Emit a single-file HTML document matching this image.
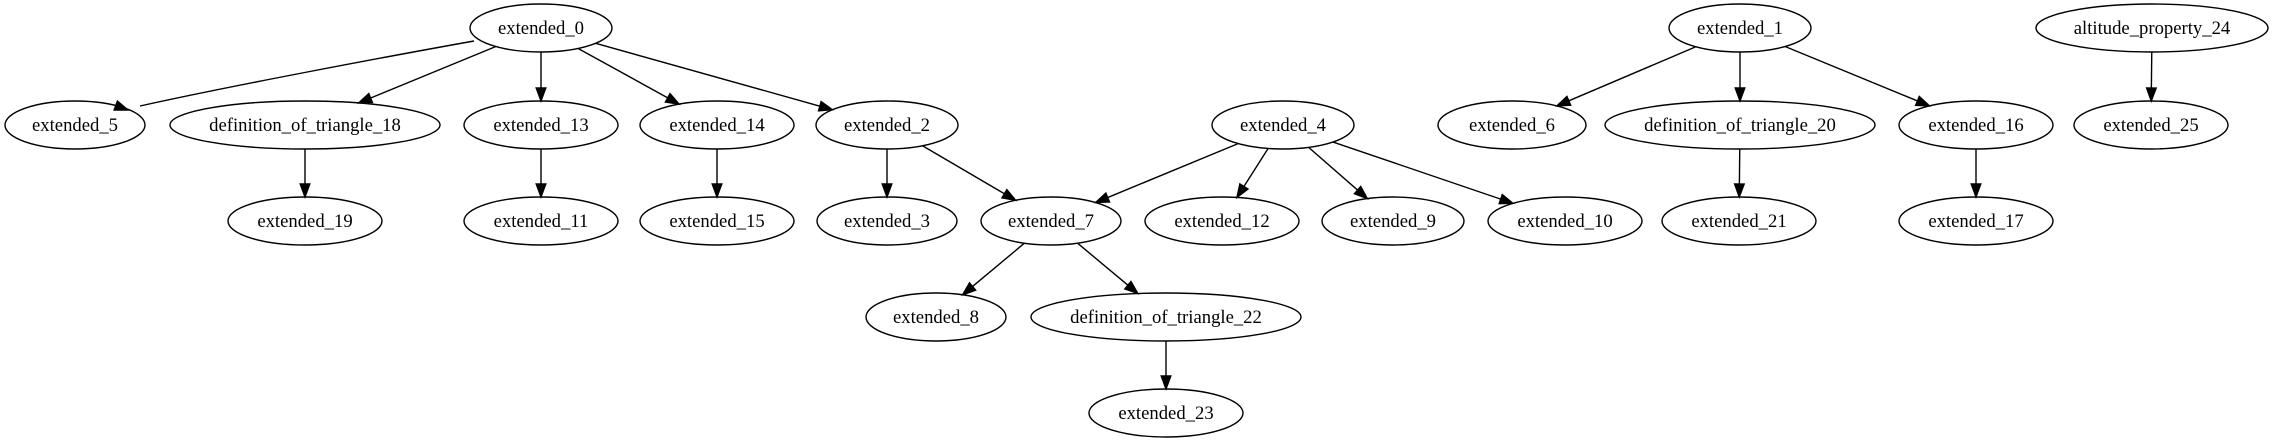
<!DOCTYPE html>
<html><head><meta charset="utf-8"><style>
html,body{margin:0;padding:0;background:#fff;}
svg{display:block;}
text{font-family:"Liberation Serif",serif;font-size:18.67px;fill:#000;}
</style></head><body>
<svg id="g" width="2272" height="443" viewBox="0 0 2272 443" xmlns="http://www.w3.org/2000/svg">
<g id="edges" stroke="#000" stroke-width="1.4" fill="none"></g>
<g id="nodes" fill="none" stroke="#000" stroke-width="1.4">
<ellipse cx="541" cy="28" rx="71" ry="24"/>
<ellipse cx="75" cy="125" rx="70" ry="24"/>
<ellipse cx="305" cy="125" rx="135" ry="24"/>
<ellipse cx="541" cy="125" rx="77" ry="24"/>
<ellipse cx="717" cy="125" rx="77" ry="24"/>
<ellipse cx="887" cy="125" rx="71" ry="24"/>
<ellipse cx="1283" cy="125" rx="71" ry="24"/>
<ellipse cx="305" cy="221" rx="77" ry="24"/>
<ellipse cx="541" cy="221" rx="77" ry="24"/>
<ellipse cx="717" cy="221" rx="77" ry="24"/>
<ellipse cx="887" cy="221" rx="70" ry="24"/>
<ellipse cx="1051" cy="221" rx="70" ry="24"/>
<ellipse cx="1222" cy="221" rx="77" ry="24"/>
<ellipse cx="1393" cy="221" rx="71" ry="24"/>
<ellipse cx="1565" cy="221" rx="77" ry="24"/>
<ellipse cx="936" cy="317" rx="70" ry="24"/>
<ellipse cx="1166" cy="317" rx="135" ry="24"/>
<ellipse cx="1166" cy="413" rx="77" ry="24"/>
<ellipse cx="1740" cy="28" rx="71" ry="24"/>
<ellipse cx="2152" cy="28" rx="116" ry="24"/>
<ellipse cx="1512" cy="125" rx="74" ry="24"/>
<ellipse cx="1740" cy="125" rx="135" ry="24"/>
<ellipse cx="1976" cy="125" rx="77" ry="24"/>
<ellipse cx="2151" cy="125" rx="77" ry="24"/>
<ellipse cx="1739" cy="221" rx="77" ry="24"/>
<ellipse cx="1976" cy="221" rx="77" ry="24"/>
</g>
<g text-anchor="middle">
<text x="541" y="34">extended_0</text>
<text x="75" y="131">extended_5</text>
<text x="305" y="131">definition_of_triangle_18</text>
<text x="541" y="131">extended_13</text>
<text x="717" y="131">extended_14</text>
<text x="887" y="131">extended_2</text>
<text x="1283" y="131">extended_4</text>
<text x="305" y="227">extended_19</text>
<text x="541" y="227">extended_11</text>
<text x="717" y="227">extended_15</text>
<text x="887" y="227">extended_3</text>
<text x="1051" y="227">extended_7</text>
<text x="1222" y="227">extended_12</text>
<text x="1393" y="227">extended_9</text>
<text x="1565" y="227">extended_10</text>
<text x="936" y="323">extended_8</text>
<text x="1166" y="323">definition_of_triangle_22</text>
<text x="1166" y="419">extended_23</text>
<text x="1740" y="34">extended_1</text>
<text x="2152" y="34">altitude_property_24</text>
<text x="1512" y="131">extended_6</text>
<text x="1740" y="131">definition_of_triangle_20</text>
<text x="1976" y="131">extended_16</text>
<text x="2151" y="131">extended_25</text>
<text x="1739" y="227">extended_21</text>
<text x="1976" y="227">extended_17</text>
</g>
</svg>
<script>
var N={
e0:[541,28,71],e5:[75,125,70],d18:[305,125,135],e13:[541,125,77],e14:[717,125,77],e2:[887,125,71],e4:[1283,125,71],
e19:[305,221,77],e11:[541,221,77],e15:[717,221,77],e3:[887,221,70],e7:[1051,221,70],e12:[1222,221,77],e9:[1393,221,71],e10:[1565,221,77],
e8:[936,317,70],d22:[1166,317,135],e23:[1166,413,77],e1:[1740,28,71],a24:[2152,28,116],e6:[1512,125,74],d20:[1740,125,135],e16:[1976,125,77],e25:[2151,125,77],e21:[1739,221,77],e17:[1976,221,77]};
var E=[["e0","d18"],["e0","e13"],["e0","e14"],["e0","e2"],["d18","e19"],["e13","e11"],["e14","e15"],["e2","e3"],["e2","e7"],["e4","e7"],["e4","e12"],["e4","e9"],["e4","e10"],["e7","e8"],["e7","d22"],["d22","e23"],["e1","e6"],["e1","d20"],["e1","e16"],["d20","e21"],["e16","e17"],["a24","e25"]];
var G=document.getElementById("edges"),ns="http://www.w3.org/2000/svg";
function bp(n,dx,dy){var rx=n[2],ry=24;var t=1/Math.sqrt(dx*dx/(rx*rx)+dy*dy/(ry*ry));return [n[0]+dx*t,n[1]+dy*t];}
function arrow(tx,ty,ux,uy){var L=13,W=4.8;var bx=tx-ux*L,by=ty-uy*L;var p=document.createElementNS(ns,"polygon");
p.setAttribute("points",tx+","+ty+" "+(bx-uy*W)+","+(by+ux*W)+" "+(bx+uy*W)+","+(by-ux*W));p.setAttribute("fill","#000");G.appendChild(p);return [bx,by];}
E.forEach(function(e){var a=N[e[0]],b=N[e[1]];var dx=b[0]-a[0],dy=b[1]-a[1];var s=bp(a,dx,dy),t=bp(b,-dx,-dy);
var ux=t[0]-s[0],uy=t[1]-s[1],l=Math.hypot(ux,uy);ux/=l;uy/=l;var q=arrow(t[0],t[1],ux,uy);
var ln=document.createElementNS(ns,"line");ln.setAttribute("x1",s[0]);ln.setAttribute("y1",s[1]);ln.setAttribute("x2",q[0]);ln.setAttribute("y2",q[1]);G.appendChild(ln);});
var p=document.createElementNS(ns,"path");p.setAttribute("d","M474,41 C390,56 230,86 140,106");G.appendChild(p);
arrow(128,110,0.94,0.34);
</script>
</body></html>
